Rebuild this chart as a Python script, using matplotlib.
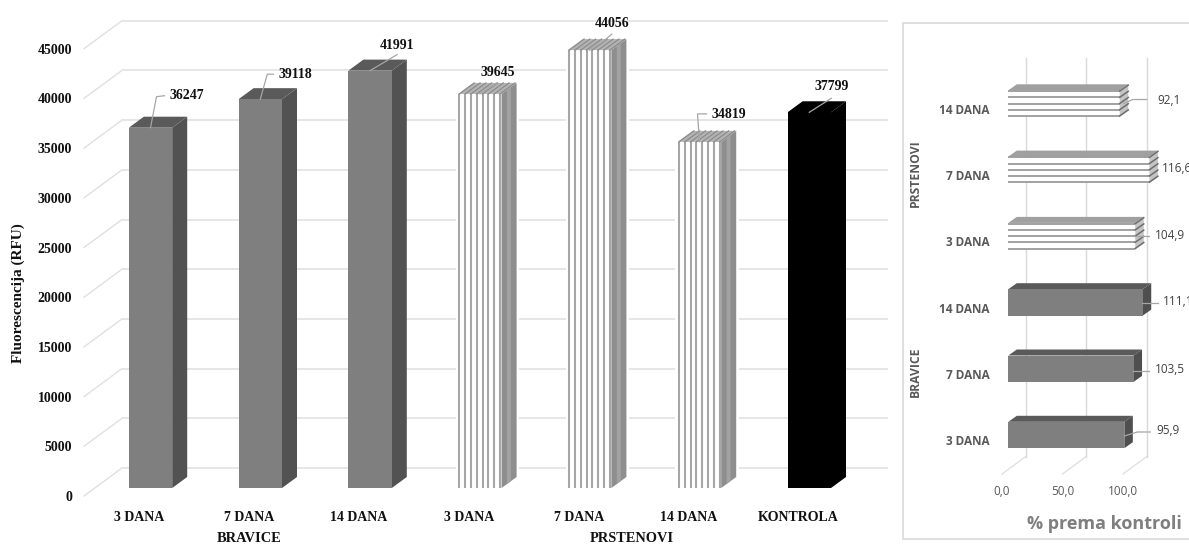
import numpy as np
import matplotlib; matplotlib.use("Agg")
import matplotlib.pyplot as plt
from matplotlib.patches import Rectangle

W, H = 1189, 545

# Main chart data
categories = ['3 DANA', '7 DANA', '14 DANA', '3 DANA', '7 DANA', '14 DANA', 'KONTROLA']
rfu = [36247, 39118, 41991, 39645, 44056, 34819, 37799]
kinds = ['solid', 'solid', 'solid', 'striped', 'striped', 'striped', 'black']
groups = ['BRAVICE', 'PRSTENOVI']
group_pos = [1, 4.48]
rfu_ticks = [0, 5000, 10000, 15000, 20000, 25000, 30000, 35000, 40000, 45000]

# Side chart data
side_categories = ['3 DANA', '7 DANA', '14 DANA', '3 DANA', '7 DANA', '14 DANA']
percent = [95.9, 103.5, 111.1, 104.9, 116.6, 92.1]
percent_labels = ['95,9', '103,5', '111,1', '104,9', '116,6', '92,1']
side_kinds = ['solid', 'solid', 'solid', 'striped', 'striped', 'striped']
percent_ticks = [0, 50, 100]
percent_tick_labels = ['0,0', '50,0', '100,0']
side_groups = ['BRAVICE', 'PRSTENOVI']
side_group_pos = [1, 4]

SERIF = 'Liberation Serif'
SANS = 'Open Sans'

fig = plt.figure(figsize=(W / 100, H / 100), dpi=100, facecolor='white')


def axes_px(left, top, right, bottom):
    return fig.add_axes((left / W, 1 - bottom / H, (right - left) / W, (bottom - top) / H), frameon=False)


def face(ax, xs, ys, color, z):
    ax.fill(xs, ys, color=color, lw=0, zorder=z, clip_on=False)


# ---- main chart, axes bottom edge is the front of the floor ----
ax = axes_px(84, 0, 888, 496)
u = 0.00994  # px per RFU
cat_px = 109.8
x0 = 150.5  # px of first bar centre
ax.set_xlim((84 - x0) / cat_px, (888 - x0) / cat_px)
ax.set_ylim(0, 496 / u)

dx, dy = 15 / cat_px, 11 / u  # bar depth
base = 8 / u  # bars stand a little behind the front of the floor
half = 21.7 / cat_px
wall_dx, wall_dy = 38 / cat_px, 28 / u
xmin, xmax = ax.get_xlim()

for v in rfu_ticks:
    ax.plot([xmin, xmin + wall_dx], [v, v + wall_dy], color='#e0e0e0', lw=1, zorder=1, clip_on=False)
    ax.plot([xmin + wall_dx, xmax], [v + wall_dy, v + wall_dy], color='#e6e6e6', lw=1.4, zorder=1)

for i, (v, kind) in enumerate(zip(rfu, kinds)):
    l, r = i - half, i + half
    b, t = base, base + v
    if kind == 'striped':
        pad = 2.5 / cat_px
        face(ax, [l - pad, r + dx + pad, r + dx + pad, l - pad], [b, b, t + dy, t + dy], 'white', 2)
        face(ax, [l, r, r, l], [b, b, t, t], 'white', 3)
        for sx in np.linspace(l + 0.01, r - 0.015, 8):
            ax.plot([sx, sx], [b, t], color='#a6a6a6', lw=1.5, zorder=4, solid_capstyle='butt')
        face(ax, [l, r, r + dx, l + dx], [t, t, t + dy, t + dy], '#b4b4b4', 3)
        for sx in np.linspace(l + 0.01, r - 0.015, 8):
            ax.plot([sx, sx + dx], [t, t + dy], color='#8c8c8c', lw=0.9, zorder=4)
        face(ax, [r, r + dx, r + dx, r], [b, b + dy, t + dy, t], '#8e8e8e', 3)
        face(ax, [r + dx * 0.36, r + dx * 0.62, r + dx * 0.62, r + dx * 0.36],
             [b + dy * 0.36, b + dy * 0.62, t + dy * 0.62, t + dy * 0.36], '#a2a2a2', 4)
    else:
        front, side, top = ('black', 'black', 'black') if kind == 'black' else ('#7f7f7f', '#525252', '#5a5a5a')
        face(ax, [r, r + dx, r + dx, r], [b, b + dy, t + dy, t], side, 3)
        face(ax, [l, r, r + dx, l + dx], [t, t, t + dy, t + dy], top, 3)
        face(ax, [l, r, r, l], [b, b, t, t], front, 4)

# leader lines, px offsets from the top centre of each bar
leaders = [[(0, 0), (6, 31), (14, 32)], [(0, 0), (7, 25), (13, 25)], [(0, 0), (27, 16)],
           [(0, 0), (17, 11)], [(0, 0), (14, 9), (22, 16)], [(0, 0), (-2, 28), (7, 28)], [(0, 0), (22, 14)]]
label_at = [(19, 32, 'left'), (18, 25, 'left'), (27, 25, 'center'), (18, 21, 'center'),
            (22, 27, 'center'), (12, 27, 'left'), (22, 26, 'center')]

for i, v in enumerate(rfu):
    t = base + v
    pts = leaders[i]
    ax.plot([i + q[0] / cat_px for q in pts], [t + q[1] / u for q in pts],
            color='#a6a6a6', lw=0.9, zorder=6, clip_on=False)
    lx, ly, ha = label_at[i]
    ax.text(i + lx / cat_px, t + ly / u, str(v), ha=ha, va='center', fontsize=10, fontweight='bold',
            family=SERIF, color='#111111', zorder=7, clip_on=False)

ax.set_yticks(rfu_ticks)
ax.set_yticklabels([str(v) for v in rfu_ticks], family=SERIF, fontweight='bold', fontsize=10, color='#111111')
ax.set_xticks([i - 0.1 for i in range(len(categories))])
ax.set_xticklabels(categories, family=SERIF, fontweight='bold', fontsize=10, color='#111111')
ax.tick_params(axis='y', length=0, pad=8.6)
ax.tick_params(axis='x', length=0, pad=10.5)

for name, gp in zip(groups, group_pos):
    ax.text(gp - 0.1, -43 / 496, name, transform=ax.get_xaxis_transform(), ha='center', va='center',
            family=SERIF, fontsize=10.4, color='#111111', fontweight='bold', clip_on=False)
fig.text(18 / W, 1 - 293 / H, 'Fluorescencija (RFU)', rotation=90, ha='center', va='center',
         family=SERIF, fontweight='bold', fontsize=11, color='#111111')

# ---- side chart ----
fig.add_artist(Rectangle((903 / W, 1 - 539 / H), 300 / W, 516 / H, transform=fig.transFigure,
                         fc='white', ec='#dcdcdc', lw=1.3, zorder=-1))
ax2 = axes_px(1002, 50, 1189, 474)
p = 1.21  # px per percent
row_px = 66.3
ax2.set_xlim(0, (1189 - 1002) / p)
ax2.set_ylim((435 - 474) / row_px, (435 - 50) / row_px)
ddx, ddy = 8.5 / p, 6 / row_px
floor_dx, floor_dy = 23.5 / p, 17.3 / row_px
gb = (474 - 17.3 - 57.7) / row_px  # height of the grid wall
bar_base = 6.3 / p
bar_half = 13.2 / row_px
ylo = ax2.get_ylim()[0]

for v in percent_ticks:
    ax2.plot([v, v + floor_dx], [ylo, ylo + floor_dy], color='#dedede', lw=0.9, zorder=1, clip_on=False)
    ax2.plot([v + floor_dx, v + floor_dx], [ylo + floor_dy, ylo + floor_dy + gb], color='#d9d9d9', lw=1, zorder=1)

for i, (v, kind) in enumerate(zip(percent, side_kinds)):
    l, r = bar_base, bar_base + v
    b, t = i - bar_half, i + bar_half
    if kind == 'striped':
        face(ax2, [l, r, r, l], [b, b, t, t], 'white', 3)
        for sy in np.linspace(b + 0.012, t - 0.012, 5):
            ax2.plot([l, r], [sy, sy], color='#9a9a9a', lw=1.3, zorder=4, solid_capstyle='butt')
        face(ax2, [l, r, r + ddx, l + ddx], [t, t, t + ddy, t + ddy], '#a0a0a0', 3)
        face(ax2, [r, r + ddx, r + ddx, r], [b, b + ddy, t + ddy, t], '#c4c4c4', 3)
        for sy in np.linspace(b + 0.012, t - 0.012, 5):
            ax2.plot([r, r + ddx], [sy, sy + ddy], color='#6e6e6e', lw=1.1, zorder=4)
    else:
        face(ax2, [l, r, r + ddx, l + ddx], [t, t, t + ddy, t + ddy], '#5a5a5a', 3)
        face(ax2, [r, r + ddx, r + ddx, r], [b, b + ddy, t + ddy, t], '#4f4f4f', 3)
        face(ax2, [l, r, r, l], [b, b, t, t], '#7f7f7f', 4)

# px offsets from the end of each bar's centre line
side_leaders = [[(0, -1), (13, 3), (26, 3)], [(-1, -2), (15, -2)], [(-1, -1), (15, -1)],
                [(-1, 0), (14, 0)], [(4, -2), (4, -2)], [(4, 0), (13, 4), (27, 4)]]
side_label_x = [32, 21, 20, 20, 13, 38]
side_label_y = [5, -1, 1, 1, 1, 3]

for i, (v, txt) in enumerate(zip(percent, percent_labels)):
    end = bar_base + v
    pts = side_leaders[i]
    ax2.plot([end + q[0] / p for q in pts], [i + q[1] / row_px for q in pts], color='#a6a6a6', lw=0.9, zorder=6, clip_on=False)
    ax2.text(end + side_label_x[i] / p, i + side_label_y[i] / row_px, txt, ha='left', va='center',
             family=SANS, fontsize=8.5, color='#404040', zorder=7, clip_on=True)

ax2.set_xticks(percent_ticks)
ax2.set_xticklabels(percent_tick_labels, family=SANS, fontsize=8.5, color='#595959')
ax2.set_yticks([i - 0.08 for i in range(len(side_categories))])
ax2.set_yticklabels(side_categories, family=SANS, fontweight='bold', fontsize=8.5, color='#595959')
ax2.tick_params(axis='x', length=0, pad=8)
ax2.tick_params(axis='y', length=0, pad=9)

for name, gp in zip(side_groups, side_group_pos):
    ax2.text(-87 / 187, gp - 0.05, name, transform=ax2.get_yaxis_transform(), rotation=90, ha='center', va='center',
             family=SANS, fontsize=8.7, fontweight='bold', color='#595959', clip_on=False)
fig.text(1027 / W, 1 - 524 / H, '% prema kontroli', ha='left', va='center', family=SANS,
         fontweight='bold', fontsize=13, color='#7f7f7f')

fig.savefig('out.png', dpi=100)
